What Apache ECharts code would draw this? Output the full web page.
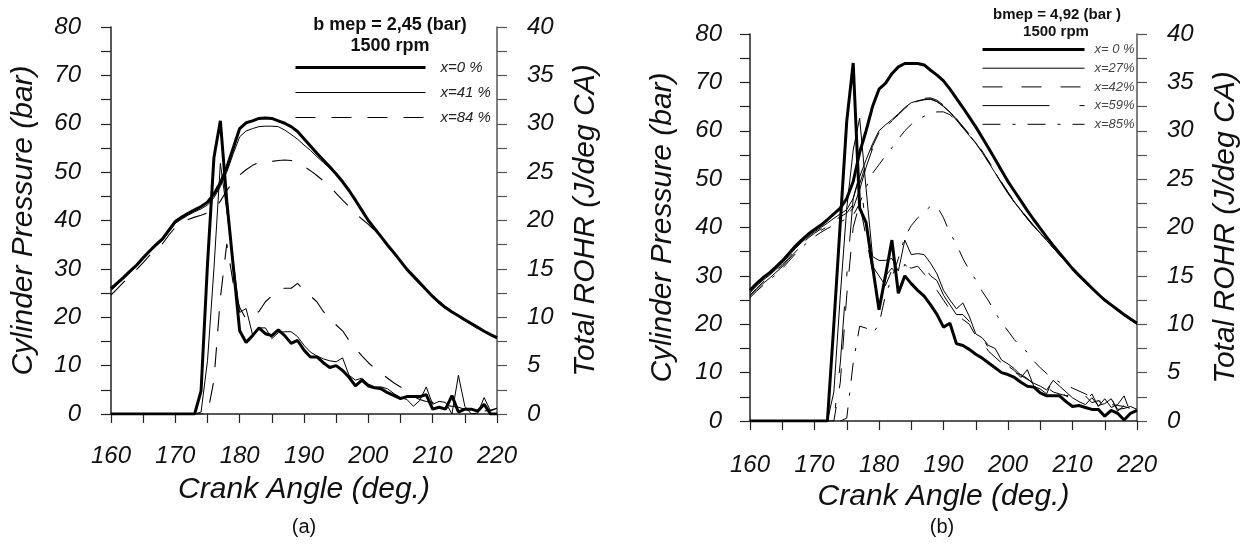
<!DOCTYPE html>
<html>
<head>
<meta charset="utf-8">
<script src="https://cdn.jsdelivr.net/npm/echarts@6/dist/echarts.min.js"></script>
<style>html,body{margin:0;padding:0;background:#fff}#c{width:1246px;height:547px}</style>
</head>
<body>
<div id="c"></div>
<script>
// Crank angle (deg.)
const angles = [160,161,162,163,164,165,166,167,168,169,170,171,172,173,174,175,176,177,178,179,180,181,182,183,184,185,186,187,188,189,190,191,192,193,194,195,196,197,198,199,200,201,202,203,204,205,206,207,208,209,210,211,212,213,214,215,216,217,218,219,220];

// ---- Panel (a): bmep = 2,45 bar ----
// Cylinder pressure (bar)
const pressA0 = [25.9,27.1,28.3,29.6,30.8,32.3,33.7,35.0,36.2,38.0,39.8,40.7,41.5,42.2,42.9,43.8,45.5,47.8,51.0,55.0,59.0,60.2,60.6,61.1,61.2,61.1,60.6,60.1,59.4,58.4,56.9,55.4,53.9,52.5,51.1,49.6,48.0,46.2,44.2,42.1,40.0,38.3,36.6,34.9,33.3,31.6,29.9,28.5,27.1,25.7,24.3,23.1,22.0,21.1,20.3,19.5,18.7,17.9,17.1,16.4,15.8];
const pressA41 = [25.5,26.8,28.0,29.3,30.5,32.0,33.4,34.7,35.9,37.6,39.4,40.3,41.1,41.8,42.4,43.2,44.7,47.0,50.0,53.8,57.3,58.5,59.0,59.4,59.5,59.5,59.4,58.7,57.8,56.8,55.6,54.5,53.2,52.0,50.8,49.4,47.8,46.0,44.0,42.0,39.9,38.2,36.5,34.8,33.2,31.5,29.8,28.4,27.0,25.6,24.2,23.0,21.9,21.0,20.2,19.4,18.6,17.8,17.0,16.3,15.7];
const pressA84 = [24.6,25.9,27.3,28.6,29.9,31.3,32.8,34.0,35.2,37.0,38.6,39.5,40.2,40.7,41.1,41.6,42.3,44.0,46.2,48.1,49.4,50.5,51.4,52.0,52.1,52.2,52.4,52.5,52.4,52.0,51.2,50.3,49.3,48.2,47.0,45.6,44.2,42.9,41.5,40.3,39.2,37.9,36.4,34.7,33.1,31.4,29.7,28.3,26.9,25.5,24.1,22.9,21.8,20.9,20.1,19.3,18.5,17.7,16.9,16.2,15.6];
// Total ROHR (J/deg CA)
const rohrA0 = [0,0,0,0,0,0,0,0,0,0,0,0,0,0,2.4,15.5,26.5,30.3,22.0,15.3,8.6,7.4,8.1,8.9,8.3,8.1,8.7,8.1,7.3,7.6,6.6,5.9,5.9,5.3,4.8,5.0,4.5,3.8,2.9,3.5,2.9,2.7,2.6,2.2,1.9,1.6,1.8,1.8,1.8,2.0,0.5,0.7,0.5,1.9,0.2,0.5,0.5,0.3,1.0,0,0];
const rohrA41 = [0,0,0,0,0,0,0,0,0,0,0,0,0,0,0.2,5.5,15.0,25.9,21.0,15.8,10.5,10.9,8.2,8.9,8.9,7.8,8.4,8.5,8.5,8.0,7.1,6.4,6.0,5.7,5.5,5.4,5.8,4.0,3.5,3.7,3.1,2.8,2.8,2.6,2.1,1.7,1.5,0.8,1.4,2.8,1.0,1.3,1.2,0,4.0,0.8,0,0.1,1.7,0.3,0.6];
const rohrA84 = [0,0,0,0,0,0,0,0,0,0,0,0,0,0,0,0,3.5,12.0,17.6,13.5,11.0,9.8,10.2,10.6,11.6,12.2,12.8,13.0,13.0,13.5,12.8,12.2,11.6,10.6,9.8,9.2,8.6,7.6,6.8,6.0,5.3,4.7,4.2,3.7,3.2,2.8,2.3,1.8,1.5,1.3,1.2,1.0,0.9,0.8,0.7,0.5,0.4,0.4,0.3,0.4,0.6];

// ---- Panel (b): bmep = 4,92 bar ----
const pressB0 = [27.0,28.4,29.6,30.6,31.8,33.1,34.6,36.1,37.4,38.6,39.6,40.5,41.6,42.8,44.0,46.0,49.5,55.5,60.0,65.0,68.6,69.8,71.8,73.2,73.9,73.9,73.9,73.6,72.5,71.5,70.3,68.6,66.7,64.8,62.8,60.8,58.6,56.4,54.1,51.8,49.5,47.5,45.5,43.5,41.6,39.8,38.0,36.3,34.7,33.1,31.5,30.1,28.8,27.5,26.2,25.0,24.0,23.0,22.0,21.1,20.2];
const pressB27 = [26.5,27.9,29.1,30.1,31.3,32.6,34.1,35.6,36.9,38.1,39.1,40.0,40.9,41.9,42.8,43.7,46.0,50.5,54.0,57.3,60.0,61.2,62.3,63.5,64.8,65.8,66.2,66.5,66.6,66.0,65.0,63.8,62.2,60.6,59.0,57.4,55.5,53.4,51.3,49.1,47.0,45.2,43.5,41.8,40.2,38.8,37.3,35.8,34.3,32.8,31.3,29.9,28.6,27.3,26.0,24.8,23.8,22.8,21.8,20.9,20.0];
const pressB42 = [26.0,27.4,28.7,29.8,31.0,32.2,33.7,35.2,36.5,37.8,38.8,39.7,40.5,41.4,42.2,43.0,44.8,49.0,53.2,56.8,59.6,61.0,62.1,63.3,64.6,65.7,66.3,66.7,66.8,66.3,65.3,64.1,62.5,60.9,59.3,57.7,55.8,53.7,51.6,49.4,47.3,45.4,43.7,42.0,40.4,39.0,37.5,36.0,34.5,33.0,31.5,30.1,28.8,27.5,26.2,25.0,24.0,23.0,22.0,21.0,20.1];
const pressB59 = [25.8,27.1,28.4,29.5,30.7,31.9,33.4,34.9,36.2,37.5,38.5,39.4,40.2,41.0,41.8,42.6,44.0,47.8,52.5,56.3,59.3,60.8,62.0,63.2,64.5,65.5,66.1,66.4,66.5,66.0,65.1,63.9,62.4,60.8,59.2,57.6,55.7,53.6,51.5,49.3,47.2,45.3,43.6,41.9,40.3,38.9,37.4,35.9,34.4,32.9,31.4,30.0,28.7,27.4,26.1,24.9,23.9,22.9,21.9,20.9,20.0];
const pressB85 = [25.5,26.8,28.0,29.1,30.3,31.5,33.0,34.5,35.8,37.1,38.1,39.0,39.8,40.5,41.2,41.8,42.5,45.0,48.3,51.2,53.0,54.8,56.5,58.3,60.0,61.3,62.3,63.0,63.6,63.9,63.9,63.3,62.1,60.6,59.1,57.5,55.6,53.5,51.4,49.2,47.1,45.2,43.5,41.8,40.2,38.8,37.3,35.8,34.3,32.8,31.3,29.9,28.6,27.3,26.0,24.8,23.8,22.8,21.8,20.9,20.0];
const rohrB0 = [0,0,0,0,0,0,0,0,0,0,0,0,0,10.0,20.5,31.0,37.0,22.0,20.5,16.0,11.5,15.0,18.7,13.2,15.0,14.2,13.5,12.9,12.0,11.0,9.7,10.1,8.0,7.8,7.4,6.9,6.5,6.0,5.5,5.0,4.8,4.5,4.0,3.6,3.5,2.9,2.6,2.6,2.6,2.0,1.5,1.6,1.4,1.2,1.2,0.5,1.1,0.8,0.1,0.8,1.1];
const rohrB27 = [0,0,0,0,0,0,0,0,0,0,0,0,0,3.0,13.0,22.0,28.0,31.3,24.0,17.0,16.6,16.6,16.8,15.5,18.7,17.2,17.3,17.2,16.3,15.2,13.5,12.5,11.6,12.2,10.8,9.0,8.6,7.8,7.5,6.3,5.9,5.4,4.7,4.3,3.9,3.6,3.2,4.2,3.6,3.0,2.4,2.0,1.7,2.4,1.6,1.8,2.3,1.2,1.3,1.5,1.2];
const rohrB42 = [0,0,0,0,0,0,0,0,0,0,0,0,0,0,4.0,13.0,20.0,22.5,19.0,15.5,14.5,15.0,15.8,15.0,16.0,15.8,16.0,15.2,14.6,13.5,12.5,11.5,11.0,10.5,10.0,8.8,8.2,7.2,6.6,6.0,5.6,5.0,4.8,4.4,3.8,3.4,3.5,3.0,2.8,2.6,2.3,2.2,2.6,1.9,2.1,1.5,2.4,1.0,1.6,1.2,1.0];
const rohrB59 = [0,0,0,0,0,0,0,0,0,0,0,0,0,0,6.0,15.0,23.0,25.5,20.0,16.0,15.0,14.0,15.6,14.5,16.2,15.4,15.5,16.0,15.0,14.5,13.0,12.0,11.0,11.0,10.3,8.6,8.7,7.5,7.0,6.2,5.7,5.2,4.5,5.3,3.6,3.3,2.8,4.5,3.0,2.6,2.8,1.8,2.0,2.8,1.5,2.3,1.4,1.7,2.6,0.8,1.3];
const rohrB85 = [0,0,0,0,0,0,0,0,0,0,0,0,0,0,0,0.3,6.0,9.8,9.6,9.0,10.0,13.0,14.8,16.8,19.0,20.2,21.0,21.6,22.2,22.2,21.0,19.4,18.3,16.8,15.6,14.6,13.4,12.4,11.2,10.2,9.3,8.4,7.7,7.1,6.2,5.5,4.9,4.4,4.0,3.7,3.4,3.1,2.8,2.5,2.1,1.9,1.7,1.6,1.5,1.3,1.2];

const xTicks = [160,170,180,190,200,210,220];
const pTickLabels = [0,10,20,30,40,50,60,70,80];
const rTickLabels = [0,5,10,15,20,25,30,35,40];

const FONT = "'Liberation Sans', Arial, sans-serif";
const chart = echarts.init(document.getElementById('c'), null, {renderer: 'canvas'});

function pairs(vals) { return angles.map((a, i) => [a, vals[i]]); }

const STY = {
  thick: {color: '#000', width: 3, type: 'solid'},
  thin: {color: '#000', width: 1, type: 'solid'},
  dashA: {color: '#000', width: 1.1, type: [20, 16]},
  dashB: {color: '#000', width: 1, type: [20, 19]},
  longShort: {color: '#000', width: 1, type: [67, 30, 5, 30]},
  dashDot: {color: '#000', width: 1, type: [18, 12, 3, 12]}
};

function mk(name, vals, xi, yi, style, z) {
  return {
    type: 'line', name: name, xAxisIndex: xi, yAxisIndex: yi,
    data: pairs(vals), symbol: 'none', showSymbol: false, smooth: false,
    lineStyle: style, z: z || 2, emphasis: {disabled: true}, silent: true,
    itemStyle: {color: '#000'}
  };
}
function legItem(name, style) {
  return {name: name, lineStyle: {color: style.color, width: style.width, type: style.type}};
}

function xAxisFor(gi, margin, nameGap) {
  return {
    type: 'value', gridIndex: gi, min: 160, max: 220, interval: 5,
    axisLine: {show: true, onZero: false, lineStyle: {color: '#222', width: 1.5}},
    axisTick: {show: true, inside: false, length: 9, lineStyle: {color: '#222', width: 1.2}},
    axisLabel: {
      margin: margin, fontSize: 24, fontStyle: 'italic', color: '#111', fontFamily: FONT,
      formatter: v => (xTicks.indexOf(v) >= 0 ? String(v) : '')
    },
    splitLine: {show: false},
    name: 'Crank Angle (deg.)', nameLocation: 'middle', nameGap: nameGap,
    nameTextStyle: {fontSize: 30, fontStyle: 'italic', color: '#111', fontFamily: FONT}
  };
}
function leftAxis(gi, margin) {
  return {
    type: 'value', gridIndex: gi, position: 'left', min: 0, max: 80, interval: 5,
    axisLine: {show: true, lineStyle: {color: '#222', width: 1.5}},
    axisTick: {show: true, inside: false, length: 10, lineStyle: {color: '#222', width: 1.2}},
    axisLabel: {
      margin: margin, fontSize: 24, fontStyle: 'italic', color: '#111', fontFamily: FONT,
      formatter: v => (pTickLabels.indexOf(v) >= 0 ? String(v) : '')
    },
    splitLine: {show: false},
    name: 'Cylinder Pressure (bar)', nameLocation: 'middle', nameGap: 72, nameRotate: 90,
    nameTextStyle: {fontSize: 30, fontStyle: 'italic', color: '#111', fontFamily: FONT}
  };
}
function rightAxis(gi) {
  return {
    type: 'value', gridIndex: gi, position: 'right', min: 0, max: 40, interval: 2.5,
    axisLine: {show: true, lineStyle: {color: '#555', width: 1.5}},
    axisTick: {show: true, inside: false, length: 10, lineStyle: {color: '#555', width: 1.2}},
    axisLabel: {
      margin: 30, fontSize: 24, fontStyle: 'italic', color: '#111', fontFamily: FONT,
      formatter: v => (rTickLabels.indexOf(v) >= 0 ? String(v) : '')
    },
    splitLine: {show: false},
    name: 'Total ROHR (J/deg CA)', nameLocation: 'middle', nameGap: 74, nameRotate: 90,
    nameTextStyle: {fontSize: 30, fontStyle: 'italic', color: '#111', fontFamily: FONT}
  };
}

const option = {
  animation: false,
  backgroundColor: '#fff',
  grid: [
    {left: 111, top: 27, width: 386, height: 387},
    {left: 750, top: 34, width: 387, height: 387}
  ],
  xAxis: [xAxisFor(0, 30, 61), xAxisFor(1, 32, 61)],
  yAxis: [leftAxis(0, 30), rightAxis(0), leftAxis(1, 28), rightAxis(1)],
  legend: [
    {
      left: 289, top: 55, orient: 'vertical', itemWidth: 130, itemHeight: 14, itemGap: 10,
      selectedMode: false,
      data: [legItem('x=0 %', STY.thick), legItem('x=41 %', STY.thin), legItem('x=84 %', STY.dashA)],
      itemStyle: {opacity: 0, borderWidth: 0},
      textStyle: {fontSize: 15, fontStyle: 'italic', color: '#222', fontFamily: FONT, padding: [0, 0, 0, 10]}
    },
    {
      left: 976, top: 38, orient: 'vertical', itemWidth: 102, itemHeight: 12, itemGap: 5.7,
      selectedMode: false,
      data: [legItem('x= 0 %', STY.thick), legItem('x=27%', STY.thin), legItem('x=42%', STY.dashB),
             legItem('x=59%', STY.longShort), legItem('x=85%', STY.dashDot)],
      itemStyle: {opacity: 0, borderWidth: 0},
      textStyle: {fontSize: 13, fontStyle: 'italic', color: '#444', fontFamily: FONT, padding: [0, 0, 0, 5]}
    }
  ],
  graphic: [
    {type: 'text', x: 390, y: 25, style: {text: 'b mep = 2,45 (bar)', fontSize: 18, fontWeight: 'bold', fill: '#111', fontFamily: FONT, align: 'center', verticalAlign: 'middle'}},
    {type: 'text', x: 390, y: 46, style: {text: '1500 rpm', fontSize: 18, fontWeight: 'bold', fill: '#111', fontFamily: FONT, align: 'center', verticalAlign: 'middle'}},
    {type: 'text', x: 1057, y: 15, style: {text: 'bmep = 4,92 (bar )', fontSize: 15, fontWeight: 'bold', fill: '#111', fontFamily: FONT, align: 'center', verticalAlign: 'middle'}},
    {type: 'text', x: 1056, y: 32, style: {text: '1500 rpm', fontSize: 15, fontWeight: 'bold', fill: '#111', fontFamily: FONT, align: 'center', verticalAlign: 'middle'}},
    {type: 'text', x: 304, y: 527, style: {text: '(a)', fontSize: 20, fill: '#111', fontFamily: FONT, align: 'center', verticalAlign: 'middle'}},
    {type: 'text', x: 942, y: 527, style: {text: '(b)', fontSize: 20, fill: '#111', fontFamily: FONT, align: 'center', verticalAlign: 'middle'}}
  ],
  series: [
    mk('x=0 %', pressA0, 0, 0, STY.thick, 5),
    mk('x=41 %', pressA41, 0, 0, STY.thin, 4),
    mk('x=84 %', pressA84, 0, 0, STY.dashA, 3),
    mk('x=0 %', rohrA0, 0, 1, STY.thick, 5),
    mk('x=41 %', rohrA41, 0, 1, STY.thin, 4),
    mk('x=84 %', rohrA84, 0, 1, STY.dashA, 3),

    mk('x= 0 %', pressB0, 1, 2, STY.thick, 5),
    mk('x=27%', pressB27, 1, 2, STY.thin, 4),
    mk('x=42%', pressB42, 1, 2, STY.dashB, 3),
    mk('x=59%', pressB59, 1, 2, STY.longShort, 3),
    mk('x=85%', pressB85, 1, 2, STY.dashDot, 3),
    mk('x= 0 %', rohrB0, 1, 3, STY.thick, 5),
    mk('x=27%', rohrB27, 1, 3, STY.thin, 4),
    mk('x=42%', rohrB42, 1, 3, STY.dashB, 3),
    mk('x=59%', rohrB59, 1, 3, STY.longShort, 3),
    mk('x=85%', rohrB85, 1, 3, STY.dashDot, 3)
  ]
};
chart.setOption(option);
</script>
</body>
</html>
